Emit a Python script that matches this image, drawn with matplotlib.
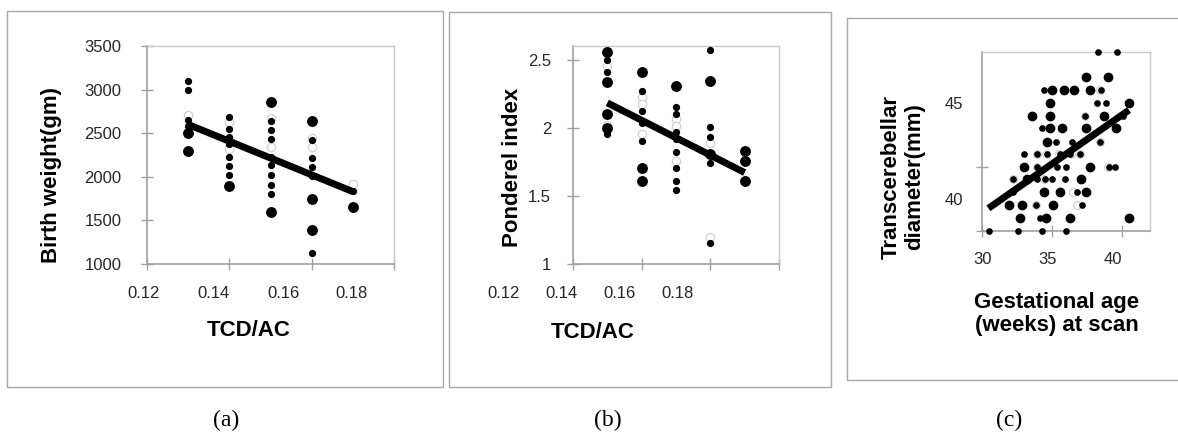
import matplotlib
matplotlib.use('Agg')
import matplotlib.pyplot as plt
from matplotlib.patches import Rectangle

plt.rcParams['font.family'] = ['Liberation Sans', 'DejaVu Sans']

W, H = 1178, 434

# ---------------- data: panel (a) Birth weight vs TCD/AC ----------------
a_big_x = [0.13, 0.13, 0.14, 0.15, 0.15, 0.16, 0.16, 0.16, 0.17]
a_big_y = [2500, 2300, 1890, 2860, 1600, 2640, 1750, 1390, 1650]
a_small_x = [0.13, 0.13, 0.13, 0.13,
             0.14, 0.14, 0.14, 0.14, 0.14, 0.14, 0.14,
             0.15, 0.15, 0.15, 0.15, 0.15, 0.15, 0.15, 0.15,
             0.16, 0.16, 0.16, 0.16, 0.16,
             0.17]
a_small_y = [3100, 3000, 2650, 2580,
             2685, 2550, 2460, 2380, 2230, 2125, 2020,
             2640, 2540, 2430, 2230, 2130, 2020, 1905, 1800,
             2420, 2220, 2115, 2010, 1130,
             1835]
a_ghost_x = [0.13, 0.14, 0.14, 0.15, 0.15, 0.16, 0.16, 0.17]
a_ghost_y = [2710, 2630, 2320, 2680, 2340, 2440, 2345, 1920]
a_trend_x = [0.13, 0.17]
a_trend_y = [2600, 1830]
a_xticks = [0.12, 0.14, 0.16, 0.18]
a_xtick_labels = ['0.12', '0.14', '0.16', '0.18']
a_yticks = [1000, 1500, 2000, 2500, 3000, 3500]
a_ytick_labels = ['1000', '1500', '2000', '2500', '3000', '3500']

# ---------------- data: panel (b) Ponderel index vs TCD/AC ----------------
b_big_x = [0.15, 0.15, 0.15, 0.15, 0.16, 0.16, 0.16, 0.17, 0.18, 0.18, 0.19, 0.19, 0.19]
b_big_y = [2.56, 2.335, 2.105, 2.00, 2.41, 1.706, 1.608, 2.307, 2.343, 1.809, 1.833, 1.755, 1.608]
b_small_x = [0.15, 0.15, 0.15,
             0.16, 0.16, 0.16, 0.16,
             0.17, 0.17, 0.17, 0.17, 0.17, 0.17, 0.17, 0.17,
             0.18, 0.18, 0.18, 0.18, 0.18]
b_small_y = [2.50, 2.41, 1.955,
             2.275, 2.127, 2.04, 1.907,
             2.157, 2.103, 1.968, 1.919, 1.821, 1.706, 1.612, 1.546,
             2.574, 2.005, 1.936, 1.743, 1.152]
b_ghost_x = [0.15, 0.15, 0.16, 0.16, 0.16, 0.17, 0.17, 0.17, 0.18, 0.18]
b_ghost_y = [2.455, 2.02, 2.226, 2.176, 1.956, 2.066, 2.017, 1.76, 1.887, 1.196]
b_trend_x = [0.15, 0.19]
b_trend_y = [2.185, 1.672]
b_xticks = [0.14, 0.16, 0.18, 0.20]
b_xtick_labels = ['0.12', '0.14', '0.16', '0.18']
b_yticks = [1, 1.5, 2, 2.5]
b_ytick_labels = ['1', '1.5', '2', '2.5']

# ---------------- data: panel (c) TCD vs gestational age ----------------
c_big_x = [37.45, 39.05,
           35.04, 35.86, 36.6, 37.74,
           34.88, 40.5,
           33.62, 34.88, 38.72,
           34.88, 35.76, 37.45, 39.62,
           34.69,
           33.05, 37.77,
           33.27, 37.08,
           34.46, 35.62, 37.42,
           31.98, 32.86, 35.06,
           32.72, 34.57, 36.33, 40.5]
c_big_y = [46.36, 46.36,
           45.70, 45.70, 45.70, 45.70,
           45.0, 45.0,
           44.34, 44.34, 44.34,
           43.69, 43.69, 43.69, 43.69,
           43.0,
           41.69, 41.69,
           41.04, 41.04,
           40.38, 40.38, 40.38,
           39.72, 39.72, 39.72,
           39.02, 39.02, 39.02, 39.02]
c_small_x = [38.33, 39.64,
             34.48, 38.5,
             38.21, 38.86,
             37.38, 40.06,
             34.29,
             35.3, 36.46, 38.45,
             33.05, 33.95, 34.65, 35.6, 36.3, 37.02,
             33.95, 35.36, 36.0, 39.1, 39.5,
             32.24, 33.93, 34.5, 35.0, 35.95,
             32.2, 36.8,
             33.9, 37.14,
             34.17,
             30.55, 32.57, 34.33, 36.0]
c_small_y = [47.69, 47.69,
             45.70, 45.70,
             45.0, 45.0,
             44.34, 44.34,
             43.69,
             43.0, 43.0, 43.0,
             42.37, 42.37, 42.37, 42.37, 42.37, 42.37,
             41.69, 41.69, 41.69, 41.69, 41.69,
             41.04, 41.04, 41.04, 41.04, 41.04,
             40.38, 40.38,
             39.72, 39.72,
             39.02,
             38.375, 38.375, 38.375, 38.375]
c_ghost_x = [38.45, 37.38, 38.45, 33.93, 34.6, 35.55, 36.35, 37.05,
             33.93, 39.05, 32.26, 34.45, 36.55, 33.85, 36.79]
c_ghost_y = [45.70, 44.34, 43.0, 42.37, 42.37, 42.37, 42.37, 42.37,
             41.69, 41.69, 41.04, 41.04, 40.38, 39.72, 39.72]
c_trend_x = [30.48, 40.52]
c_trend_y = [39.53, 44.65]
c_xticks = [30, 35, 40]
c_xtick_labels = ['30', '35', '40']
c_yticks = [45, 40]
c_ytick_labels = ['45', '40']

# ---------------- layout helpers ----------------
fig = plt.figure(figsize=(W / 100, H / 100), dpi=100)


def fx(px):
    return px / W


def fy(py):
    return 1 - py / H


def add_axes_px(l, t, r, b):
    return fig.add_axes([fx(l), fy(b), (r - l) / W, (b - t) / H])


def ftext(px, py, s, **kw):
    fig.text(fx(px), fy(py), s, **kw)


def frame(l, t, r, b):
    fig.add_artist(Rectangle((fx(l), fy(b)), (r - l) / W, (b - t) / H,
                             transform=fig.transFigure, fill=False,
                             ec='#a8a8a8', lw=1.0, clip_on=False))


AX_GRAY = '#a0a0a0'
LIGHT = '#c8c8c8'
TICK_COLOR = '#262626'


def style(ax):
    for s in ['top', 'right']:
        ax.spines[s].set_color(LIGHT)
        ax.spines[s].set_linewidth(1.0)
    for s in ['left', 'bottom']:
        ax.spines[s].set_color(AX_GRAY)
        ax.spines[s].set_linewidth(1.2)
    ax.tick_params(which='both', direction='inout', color=AX_GRAY, width=1.0,
                   labelsize=12, labelcolor=TICK_COLOR)


def scatter(ax, bx, by, sx, sy, gx, gy, tx, ty, big, small):
    ax.plot(gx, gy, 'o', ms=small + 1.8, mfc='white', mec='#d2d2d2', mew=0.9,
            ls='none', clip_on=False, zorder=2)
    ax.plot(sx, sy, 'o', ms=small, color='black', ls='none', clip_on=False, zorder=3)
    ax.plot(bx, by, 'o', ms=big, color='black', ls='none', clip_on=False, zorder=3)
    ax.plot(tx, ty, color='black', lw=5, solid_capstyle='butt', zorder=4)


# panel frames
frame(7, 11, 443, 387)
frame(449, 12, 831, 387)
frame(847, 18, 1185, 380)

# ---------------- panel (a) ----------------
ax = add_axes_px(147, 46, 394, 264)
style(ax)
ax.set_xlim(0.12, 0.18)
ax.set_ylim(1000, 3500)
ax.set_xticks(a_xticks)
ax.set_xticklabels([])
ax.set_yticks(a_yticks)
ax.set_yticklabels(a_ytick_labels)
ax.tick_params(axis='both', length=8)
ax.tick_params(axis='y', pad=14.5)
scatter(ax, a_big_x, a_big_y, a_small_x, a_small_y, a_ghost_x, a_ghost_y,
        a_trend_x, a_trend_y, big=6.8, small=4.2)
for lbl, px in zip(a_xtick_labels, [144, 214, 284, 351]):
    ftext(px, 293, lbl, ha='center', va='center', fontsize=12, color=TICK_COLOR)
ftext(52, 175, 'Birth weight(gm)', rotation=90, ha='center', va='center',
      fontsize=16, fontweight='bold')
ftext(249, 331, 'TCD/AC', ha='center', va='center', fontsize=16, fontweight='bold')

# ---------------- panel (b) ----------------
ax = add_axes_px(573, 46, 779, 264)
style(ax)
ax.set_xlim(0.14, 0.20)
ax.set_ylim(1, 2.603)
ax.set_xticks(b_xticks)
ax.set_xticklabels([])
ax.set_yticks(b_yticks)
ax.set_yticklabels(b_ytick_labels)
ax.tick_params(axis='both', length=8)
ax.tick_params(axis='y', pad=11.8)
scatter(ax, b_big_x, b_big_y, b_small_x, b_small_y, b_ghost_x, b_ghost_y,
        b_trend_x, b_trend_y, big=6.8, small=4.2)
for lbl, px in zip(b_xtick_labels, [504, 561, 620, 678]):
    ftext(px, 293, lbl, ha='center', va='center', fontsize=12, color=TICK_COLOR)
ftext(513, 167, 'Ponderel index', rotation=90, ha='center', va='center',
      fontsize=16, fontweight='bold')
ftext(593, 332, 'TCD/AC', ha='center', va='center', fontsize=16, fontweight='bold')

# ---------------- panel (c) ----------------
ax = add_axes_px(981.7, 51.7, 1150, 230.5)
style(ax)
ax.set_xlim(30, 42.02)
ax.set_ylim(38.375, 47.69)
ax.set_xticks(c_xticks)
ax.set_xticklabels([])
ax.set_yticks(c_yticks)
ax.set_yticklabels(c_ytick_labels)
ax.set_yticks([45, 41.69, 38.375], minor=True)
ax.tick_params(axis='x', length=8)
ax.tick_params(axis='y', which='major', length=0, pad=13.5)
ax.tick_params(axis='y', which='minor', length=8)
scatter(ax, c_big_x, c_big_y, c_small_x, c_small_y, c_ghost_x, c_ghost_y,
        c_trend_x, c_trend_y, big=6.0, small=3.8)
for lbl, px in zip(c_xtick_labels, [982.5, 1047.5, 1113]):
    ftext(px, 259, lbl, ha='center', va='center', fontsize=12, color=TICK_COLOR)
ftext(903, 177, 'Transcerebellar\ndiameter(mm)', rotation=90, ha='center',
      va='center', ma='center', fontsize=16, fontweight='bold', linespacing=1.1)
ftext(1057, 314, 'Gestational age\n(weeks) at scan', ha='center', va='center',
      ma='center', fontsize=16, fontweight='bold', linespacing=1.1)

# ---------------- captions ----------------
for lbl, px in zip(['(a)', '(b)', '(c)'], [226, 608, 1009]):
    ftext(px, 420, lbl, ha='center', va='center', fontsize=17,
          family=['Liberation Serif', 'DejaVu Serif'])

fig.savefig('out.png', dpi=100)
